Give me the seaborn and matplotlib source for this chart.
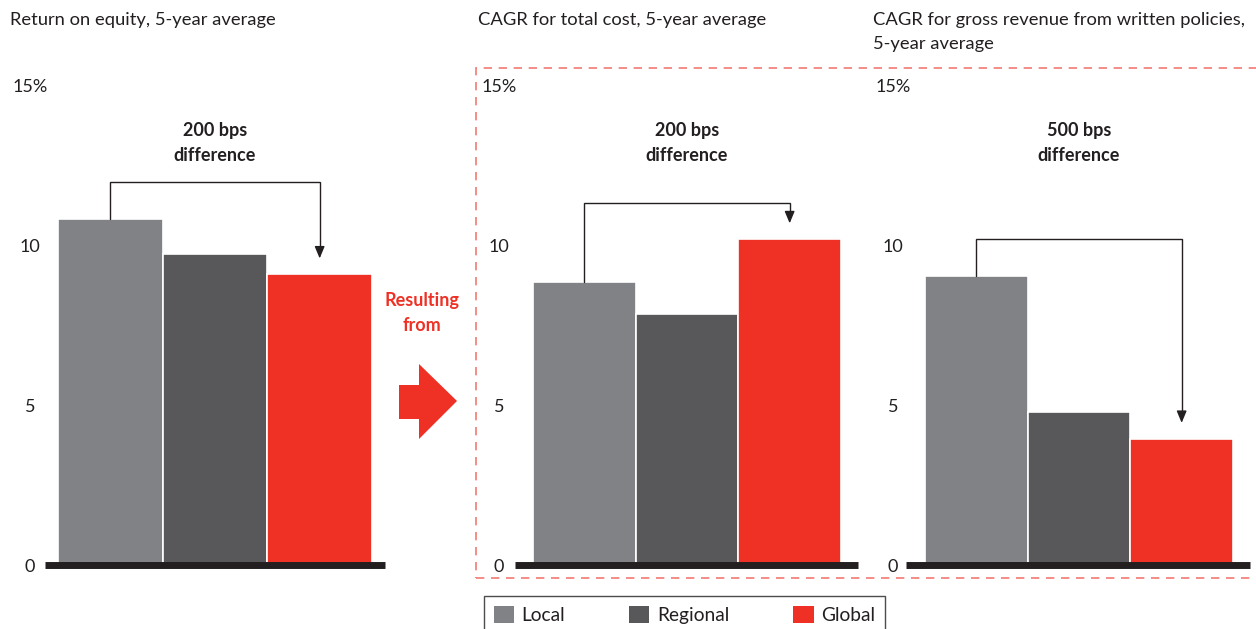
import matplotlib
matplotlib.use("Agg")
import matplotlib.pyplot as plt
import seaborn as sns
import pandas as pd
from matplotlib.patches import Patch, Polygon, Rectangle

# ---------------- data ----------------
categories = ["Local", "Regional", "Global"]
roe_values = [10.85, 9.75, 9.1]
cost_cagr_values = [8.85, 7.85, 10.2]
revenue_cagr_values = [9.05, 4.8, 3.95]
titles = ["Return on equity, 5-year average",
          "CAGR for total cost, 5-year average",
          "CAGR for gross revenue from written policies,\n5-year average"]
annotations = ["200 bps\ndifference", "200 bps\ndifference", "500 bps\ndifference"]
ytick_values = [0, 5, 10, 15]
ytick_labels = ["0", "5", "10", "15%"]
side_text = "Resulting\nfrom"

colors = {"Local": "#818285", "Regional": "#58585a", "Global": "#ee3124"}
RED = "#ee3124"

sns.set_theme(style="white")
plt.rcParams["font.family"] = ["Lato", "DejaVu Sans"]

W, H = 1256, 629
fig = plt.figure(figsize=(W / 100, H / 100), dpi=100)

def fx(px):
    return px / W

def fy(py):
    return 1 - py / H

# panel geometry in pixels: (axes left, axes right, bar left, bar right, label pad, title x)
panels = [
    (45, 385, 58, 372, 15, 10),
    (515, 858, 533, 841, 16, 478),
    (906, 1250, 925, 1233, 13, 873),
]
y_top_px, y_bot_px = 86, 565
datasets = [roe_values, cost_cagr_values, revenue_cagr_values]

for (al, ar, bl, br, pad, tx), vals, title, ann in zip(panels, datasets, titles, annotations):
    ax = fig.add_axes([fx(al), fy(y_bot_px), fx(ar - al), (y_bot_px - y_top_px) / H])
    df = pd.DataFrame({"cat": categories, "val": vals})
    sns.barplot(data=df, x="cat", y="val", hue="cat", palette=colors, order=categories,
                width=1.0, edgecolor="white", linewidth=1.2, legend=False, ax=ax,
                saturation=1)
    ppu = (br - bl) / 3
    ax.set_xlim(-0.5 - (bl - al) / ppu, 2.5 + (ar - br) / ppu)
    ax.set_ylim(0, 15)
    ax.set_xlabel("")
    ax.set_ylabel("")
    ax.set_xticks([])
    ax.set_yticks(ytick_values)
    ax.set_yticklabels(ytick_labels)
    ax.tick_params(axis="y", length=0, pad=pad * 0.72, labelsize=13, labelcolor="#231f20")
    for lab in ax.get_yticklabels():
        lab.set_ha("center")
    for s in ["left", "right", "top"]:
        ax.spines[s].set_visible(False)
    ax.spines["bottom"].set_linewidth(5)
    ax.spines["bottom"].set_color("#231f20")
    ax.spines["bottom"].set_capstyle("butt")
    ax.patch.set_alpha(0)

    # bracket
    top = max(vals) + 1.15
    tip = vals[2] + 0.5
    ax.plot([0, 0, 2, 2], [vals[0], top, top, tip + 0.3], color="#231f20", lw=1.0,
            clip_on=False, solid_joinstyle="miter")
    ax.annotate("", xy=(2, tip), xytext=(2, tip + 0.35),
                arrowprops=dict(arrowstyle="-|>,head_length=0.6,head_width=0.25",
                                color="#231f20", lw=1.0, shrinkA=0, shrinkB=0))
    ax.text(1, 13.22, ann, ha="center", va="center", fontsize=13, fontweight="bold",
            color="#231f20", linespacing=1.55)

    fig.text(fx(tx), fy(12), title, ha="left", va="top", fontsize=13.2,
             color="#231f20", linespacing=1.65)

# dashed highlight box
fig.patches.append(Rectangle((fx(476), fy(578)), fx(800), (578 - 68) / H,
                             transform=fig.transFigure, fill=False,
                             edgecolor="#f07a72", lw=1.2, linestyle=(0, (5, 4))))

# "Resulting from" text and big arrow
fig.text(fx(422), fy(313), side_text, ha="center", va="center", fontsize=13,
         fontweight="bold", color=RED, linespacing=1.55)
arrow_px = [(399, 385), (419, 385), (419, 364), (457, 401), (419, 439), (419, 419), (399, 419)]
fig.patches.append(Polygon([(fx(x), fy(y)) for x, y in arrow_px], closed=True,
                           transform=fig.transFigure, facecolor=RED, edgecolor="none"))

# legend
handles = [Patch(facecolor=colors[c], edgecolor="none", label=c) for c in categories]
leg = fig.legend(handles=handles, loc="upper left", bbox_to_anchor=(fx(484), fy(596)),
                 ncol=3, frameon=True, fancybox=False, fontsize=13.8,
                 handlelength=1.05, handleheight=1.05, handletextpad=0.4,
                 columnspacing=3.35, borderpad=0.5, borderaxespad=0)
leg.get_frame().set_edgecolor("#231f20")
leg.get_frame().set_linewidth(1.0)
for t in leg.get_texts():
    t.set_color("#231f20")

fig.savefig("out.png", dpi=100)
